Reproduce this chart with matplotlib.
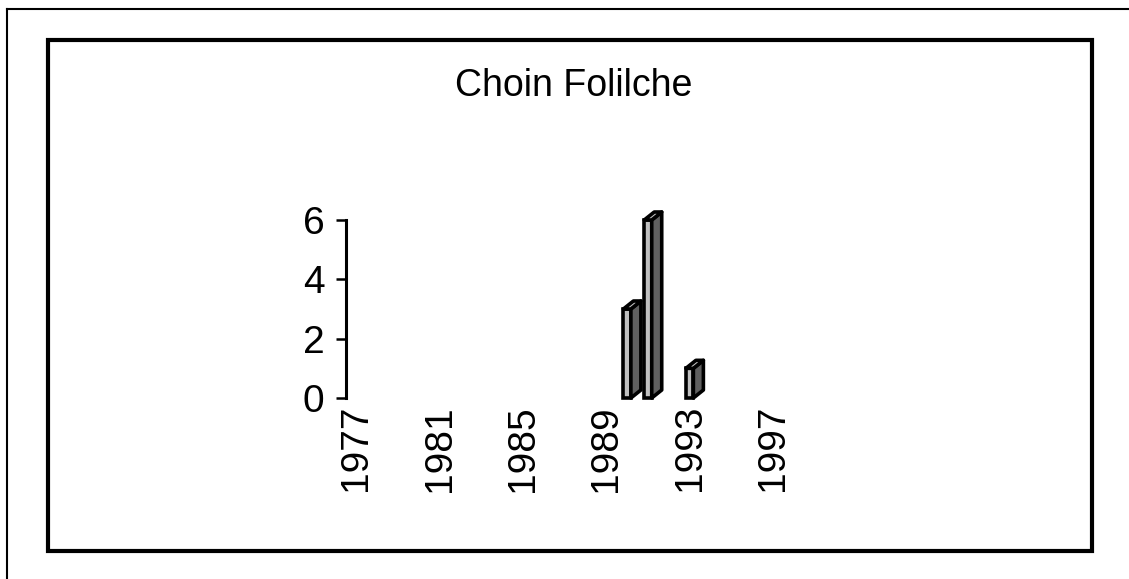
import matplotlib
matplotlib.use('Agg')
import matplotlib.pyplot as plt
from matplotlib.patches import Polygon, Rectangle
from matplotlib.lines import Line2D

plt.rcParams['font.family'] = ['Liberation Sans', 'DejaVu Sans']

# yearly counts
years = [1977, 1978, 1979, 1980, 1981, 1982, 1983, 1984, 1985, 1986, 1987, 1988,
         1989, 1990, 1991, 1992, 1993, 1994, 1995, 1996, 1997, 1998, 1999]
counts = [0, 0, 0, 0, 0, 0, 0, 0, 0, 0, 0, 0,
          0, 3, 6, 0, 1, 0, 0, 0, 0, 0, 0]
tick_years = [1977, 1981, 1985, 1989, 1993, 1997]
y_ticks = [0, 2, 4, 6]
title = 'Choin Folilche'

W, H = 1129, 579
fig = plt.figure(figsize=(W / 100, H / 100), dpi=100)
ax = fig.add_axes([346 / W, 181 / H, 479 / W, 178 / H])

n = len(years)
ax.set_xlim(-0.5, n - 0.5)
ax.set_ylim(0, 6)

# depth of the fake 3d bars, in pixels -> data units
bw = 0.36
dx = 10 / (479 / n)
dy = 8 / (178 / 6)
lw = 2.6

xs = list(range(n))
hs = [c if c > 0 else float('nan') for c in counts]
ax.bar(xs, hs, width=bw, color='#c0c0c0', edgecolor='black', linewidth=lw,
       zorder=3, clip_on=False)
for i, v in zip(xs, counts):
    if v <= 0:
        continue
    x0, x1 = i - bw / 2, i + bw / 2
    side = Polygon([(x1, 0), (x1 + dx, dy), (x1 + dx, v + dy), (x1, v)],
                   closed=True, fc='#606060', ec='black', lw=lw, clip_on=False,
                   zorder=3, joinstyle='round')
    top = Polygon([(x0, v), (x1, v), (x1 + dx, v + dy), (x0 + dx, v + dy)],
                  closed=True, fc='#c0c0c0', ec='black', lw=lw, clip_on=False,
                  zorder=3, joinstyle='round')
    ax.add_patch(side)
    ax.add_patch(top)

ax.set_yticks(y_ticks)
ax.set_yticklabels([str(t) for t in y_ticks])
ax.set_xticks([years.index(y) for y in tick_years])
ax.set_xticklabels([str(y) for y in tick_years], rotation=90)
ax.tick_params(axis='y', length=7.5, width=1.8, labelsize=28, pad=8)
ax.tick_params(axis='x', length=0, labelsize=28, pad=5)

for s in ['top', 'right', 'bottom']:
    ax.spines[s].set_visible(False)
ax.spines['left'].set_linewidth(2.2)

fig.text(574 / W, 1 - 86 / H, title, ha='center', va='center', fontsize=27)

# chart area frame and outer frame lines
fig.add_artist(Rectangle((48 / W, 1 - 551 / H), (1092 - 48) / W, (551 - 40) / H,
                         transform=fig.transFigure, fill=False, lw=3, ec='black'))
fig.add_artist(Line2D([7 / W, 7 / W], [0, 1 - 9 / H], transform=fig.transFigure,
                      lw=1.5, color='black'))
fig.add_artist(Line2D([7 / W, 1], [1 - 9 / H, 1 - 9 / H], transform=fig.transFigure,
                      lw=1.5, color='black'))

fig.savefig('out.png', dpi=100)
